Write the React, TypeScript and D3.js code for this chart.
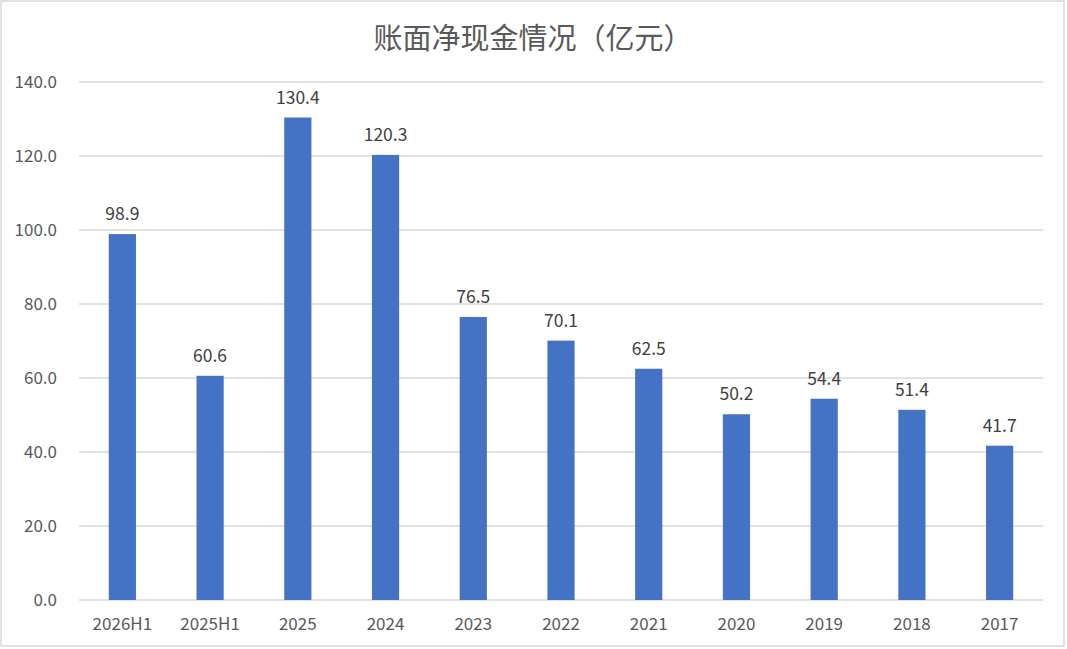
import React from "react";
import * as d3 from "d3";

const categories = ["2026H1", "2025H1", "2025", "2024", "2023", "2022", "2021", "2020", "2019", "2018", "2017"];
const values = [98.9, 60.6, 130.4, 120.3, 76.5, 70.1, 62.5, 50.2, 54.4, 51.4, 41.7];
const yTicks = [0, 20, 40, 60, 80, 100, 120, 140];
const title = "账面净现金情况（亿元）";

const W = 1067;
const H = 649;
const FONT = "'Noto Sans CJK SC', 'Microsoft YaHei', sans-serif";

export default function App() {
  const x = d3.scaleBand<string>().domain(categories).range([78.5, 1043.5]).paddingInner(0.69).paddingOuter(0.345);
  const y = d3.scaleLinear().domain([0, 140]).range([600, 82]);
  return (
    <svg width={W} height={H} style={{ position: "fixed", left: 0, top: 0, background: "#fff" }} fontFamily={FONT}>
      <rect x={1} y={1} width={W - 4} height={H - 4} fill="#fff" stroke="#d9d9d9" strokeWidth={1.5} />
      <text x={533} y={49} textAnchor="middle" fontSize={29} fill="#595959">{title}</text>
      {yTicks.map((t) => (
        <g key={t}>
          <line x1={79} x2={1043} y1={y(t)} y2={y(t)} stroke="#d9d9d9" strokeWidth={1.5} />
          <text x={57} y={y(t)} dy="0.35em" textAnchor="end" fontSize={17} fill="#595959">{t.toFixed(1)}</text>
        </g>
      ))}
      {categories.map((c, i) => (
        <g key={c}>
          <rect x={x(c)} y={y(values[i])} width={x.bandwidth()} height={y(0) - y(values[i])} fill="#4472c4" />
          <text x={(x(c) as number) + x.bandwidth() / 2} y={y(values[i]) - 14} textAnchor="middle" fontSize={17.5} fill="#404040">{values[i].toFixed(1)}</text>
          <text x={(x(c) as number) + x.bandwidth() / 2} y={630} textAnchor="middle" fontSize={17} fill="#595959">{c}</text>
        </g>
      ))}
    </svg>
  );
}
